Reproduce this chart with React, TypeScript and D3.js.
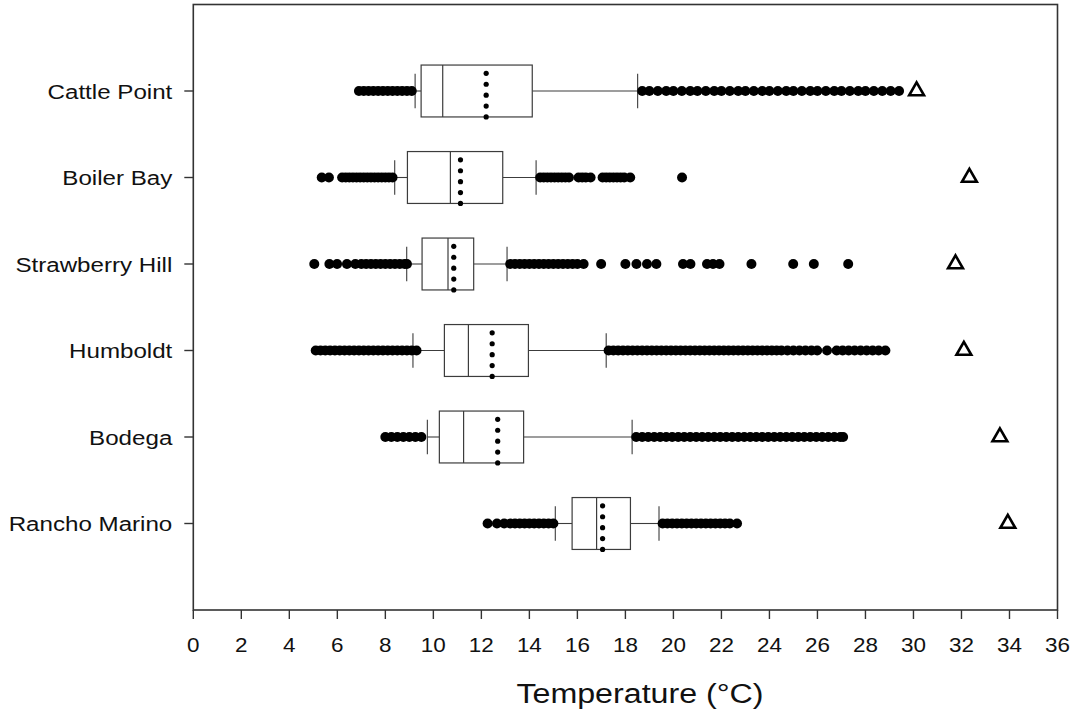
import React from "react";
import * as d3 from "d3";

// ---- data (°C) ----
const sites = ["Cattle Point", "Boiler Bay", "Strawberry Hill", "Humboldt", "Bodega", "Rancho Marino"];
const whiskerLow = [9.24, 8.39, 8.89, 9.15, 9.75, 15.08];
const q1 = [9.49, 8.92, 9.53, 10.46, 10.25, 15.78];
const median = [10.39, 10.71, 10.61, 11.46, 11.26, 16.8];
const mean = [12.2, 11.13, 10.85, 12.45, 12.68, 17.05];
const q3 = [14.12, 12.89, 11.68, 13.96, 13.76, 18.21];
const whiskerHigh = [18.51, 14.28, 13.07, 17.2, 18.28, 19.4];
const maxTemp = [30.13, 32.33, 31.75, 32.1, 33.6, 33.93];

const outliersCattlePoint = [
  6.9, 7.1, 7.3, 7.5, 7.7, 7.9, 8.1, 8.3, 8.5, 8.7, 8.9, 9.1,
  18.7, 19.0, 19.35, 19.7, 20.0, 20.35, 20.7, 21.0, 21.35, 21.7, 22.0, 22.35, 22.7, 23.0, 23.35, 23.7, 24.0,
  24.35, 24.7, 25.0, 25.35, 25.7, 26.0, 26.35, 26.7, 27.0, 27.35, 27.7, 28.0, 28.35, 28.7, 29.05, 29.4,
];
const outliersBoilerBay = [
  5.35, 5.65, 6.2, 6.35, 6.5, 6.65, 6.8, 6.95, 7.1, 7.25, 7.4, 7.55, 7.7, 7.85, 8.0, 8.15, 8.3,
  14.45, 14.6, 14.75, 14.9, 15.05, 15.2, 15.35, 15.5, 15.65,
  16.05, 16.2, 16.35, 16.55,
  17.05, 17.2, 17.35, 17.5, 17.65, 17.8, 17.95, 18.2,
  20.36,
];
const outliersStrawberryHill = [
  5.04, 5.67, 5.99, 6.4, 6.75, 7.0, 7.2, 7.4, 7.6, 7.8, 8.0, 8.2, 8.4, 8.6, 8.8, 8.9,
  13.2, 13.4, 13.6, 13.8, 14.0, 14.2, 14.4, 14.6, 14.8, 15.0, 15.2, 15.4, 15.6, 15.8, 16.0, 16.26,
  16.99, 18.0, 18.46, 18.9, 19.29, 20.4, 20.71, 21.4, 21.65, 21.92, 23.25, 24.99, 25.85, 27.28,
];
const outliersHumboldt = [
  5.1, 5.3, 5.5, 5.7, 5.9, 6.1, 6.3, 6.5, 6.7, 6.9, 7.1, 7.3, 7.5, 7.7, 7.9, 8.1, 8.3, 8.5, 8.7, 8.9, 9.1, 9.3,
  17.3, 17.5, 17.7, 17.9, 18.1, 18.3, 18.5, 18.7, 18.9, 19.1, 19.3, 19.5, 19.7, 19.9, 20.1, 20.3, 20.5, 20.7,
  20.9, 21.1, 21.3, 21.5, 21.7, 21.9, 22.1, 22.3, 22.5, 22.7, 22.9, 23.1, 23.3, 23.5, 23.7, 23.9, 24.1, 24.3,
  24.5, 24.75, 25.0, 25.25, 25.5, 25.75, 25.99,
  26.4, 26.8, 27.05, 27.3, 27.55, 27.8, 28.05, 28.3, 28.55, 28.83,
];
const outliersBodega = [
  8.0, 8.25, 8.5, 8.75, 9.0, 9.25, 9.5,
  18.45, 18.7, 18.95, 19.2, 19.45, 19.7, 19.95, 20.2, 20.45, 20.7, 20.95, 21.2, 21.45, 21.7, 21.95, 22.2,
  22.45, 22.7, 22.95, 23.2, 23.45, 23.7, 23.95, 24.2, 24.45, 24.7, 24.95, 25.2, 25.45, 25.7, 25.95, 26.2,
  26.45, 26.7, 26.95, 27.07,
];
const outliersRanchoMarino = [
  12.26, 12.65, 12.95, 13.2, 13.4, 13.6, 13.8, 14.0, 14.2, 14.4, 14.6, 14.8, 15.0,
  19.55, 19.75, 19.95, 20.15, 20.35, 20.55, 20.75, 20.95, 21.15, 21.35, 21.55, 21.75, 21.95, 22.15, 22.35, 22.65,
];
const outliers = [
  outliersCattlePoint,
  outliersBoilerBay,
  outliersStrawberryHill,
  outliersHumboldt,
  outliersBodega,
  outliersRanchoMarino,
];
const xTicks = d3.range(0, 37, 2);
const xTitle = "Temperature (°C)";

// ---- layout ----
const W = 1077;
const H = 713;
const plot = { left: 193.3, right: 1057.5, top: 4.5, bottom: 610 };
const FONT = "'Liberation Sans', Arial, Helvetica, sans-serif";
const LINE = "#3c3c3c";

export default function App() {
  const x = d3.scaleLinear().domain([0, 36]).range([plot.left, plot.right]);
  const y = d3.scalePoint<string>().domain(sites).range([plot.top, plot.bottom]).padding(1);
  const step = y.step();
  const boxH = step * 0.6;
  const capH = step * 0.4;
  const tri = d3.symbol().type(d3.symbolTriangle).size(95)();

  return (
    <svg
      width={W}
      height={H}
      style={{ position: "absolute", left: 0, top: 0, display: "block", background: "#fff" }}
      fontFamily={FONT}
    >
      <rect x={0} y={0} width={W} height={H} fill="#fff" />
      {/* frame */}
      <rect
        x={plot.left}
        y={plot.top}
        width={plot.right - plot.left}
        height={plot.bottom - plot.top}
        fill="none"
        stroke="#333"
        strokeWidth={1.6}
      />
      {/* x ticks */}
      {xTicks.map((t) => (
        <g key={"xt" + t}>
          <line x1={x(t)} x2={x(t)} y1={plot.bottom} y2={plot.bottom + 9} stroke="#333" strokeWidth={1.4} />
          <text
            transform={`translate(${x(t)},${plot.bottom + 42}) scale(1.07,1)`}
            textAnchor="middle"
            fontSize={21}
            fill="#111"
          >
            {t}
          </text>
        </g>
      ))}
      <text
        transform={`translate(640,${plot.bottom + 93}) scale(1.15,1)`}
        textAnchor="middle"
        fontSize={28}
        fill="#111"
      >
        {xTitle}
      </text>
      {/* sites */}
      {sites.map((s, i) => {
        const cy = y(s) as number;
        const top = cy - boxH / 2;
        const bot = cy + boxH / 2;
        return (
          <g key={s}>
            <line x1={plot.left - 9} x2={plot.left} y1={cy} y2={cy} stroke="#333" strokeWidth={1.4} />
            <text
              transform={`translate(${plot.left - 21},${cy + 7.5}) scale(1.15,1)`}
              textAnchor="end"
              fontSize={21}
              fill="#111"
            >
              {s}
            </text>
            {/* whiskers */}
            <line x1={x(whiskerLow[i])} x2={x(q1[i])} y1={cy} y2={cy} stroke={LINE} strokeWidth={1.1} />
            <line x1={x(q3[i])} x2={x(whiskerHigh[i])} y1={cy} y2={cy} stroke={LINE} strokeWidth={1.1} />
            <line
              x1={x(whiskerLow[i])}
              x2={x(whiskerLow[i])}
              y1={cy - capH / 2}
              y2={cy + capH / 2}
              stroke={LINE}
              strokeWidth={1.1}
            />
            <line
              x1={x(whiskerHigh[i])}
              x2={x(whiskerHigh[i])}
              y1={cy - capH / 2}
              y2={cy + capH / 2}
              stroke={LINE}
              strokeWidth={1.1}
            />
            {/* box */}
            <rect
              x={x(q1[i])}
              y={top}
              width={x(q3[i]) - x(q1[i])}
              height={boxH}
              fill="#fff"
              stroke={LINE}
              strokeWidth={1.2}
            />
            <line x1={x(median[i])} x2={x(median[i])} y1={top} y2={bot} stroke={LINE} strokeWidth={1.2} />
            {/* mean as dotted line */}
            {d3.range(5).map((k) => (
              <circle key={k} cx={x(mean[i])} cy={bot - k * boxH * 0.21} r={2.6} fill="#000" />
            ))}
            {/* outliers */}
            {outliers[i].map((v, j) => (
              <circle key={"o" + j} cx={x(v)} cy={cy} r={5} fill="#000" />
            ))}
            {/* max temperature */}
            <path
              d={tri as string}
              transform={`translate(${x(maxTemp[i])},${cy})`}
              fill="none"
              stroke="#000"
              strokeWidth={2.6}
              strokeLinejoin="miter"
            />
          </g>
        );
      })}
    </svg>
  );
}
